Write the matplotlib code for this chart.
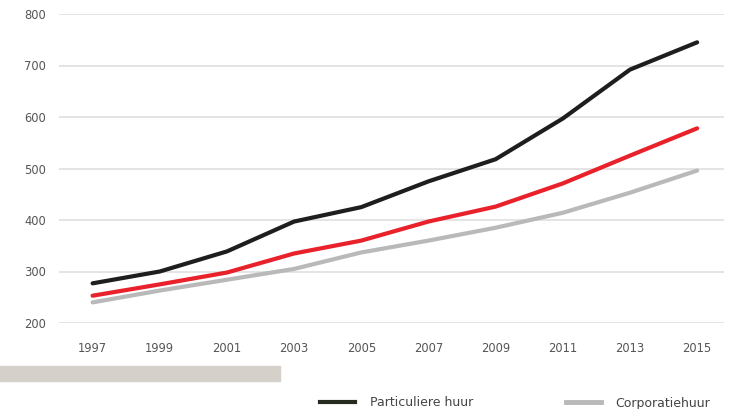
import matplotlib.pyplot as plt
from matplotlib.lines import Line2D
from matplotlib.patches import Rectangle

years = [1997, 1999, 2001, 2003, 2005, 2007, 2009, 2011, 2013, 2015]
particulier = [277, 300, 339, 397, 425, 475, 518, 597, 692, 745]
gemiddeld = [253, 275, 298, 335, 360, 397, 426, 471, 525, 578]
corporatie = [240, 263, 284, 305, 337, 360, 385, 414, 453, 496]
yticks = [200, 300, 400, 500, 600, 700, 800]

fig = plt.figure(figsize=(7.34, 4.09), dpi=100)
ax = fig.add_axes([59 / 734, 1 - 323 / 409, 665 / 734, 309 / 409])

for s in ax.spines.values():
    s.set_visible(False)

ax.set_xlim(1996, 2015.8)
ax.set_ylim(200, 800)
ax.set_yticks(yticks)
ax.set_xticks(years)
ax.grid(axis='y', color='#e4e4e4', linewidth=1.4)
ax.set_axisbelow(True)
ax.tick_params(length=0, labelsize=8.3, labelcolor='#555555')
ax.tick_params(axis='y', pad=9.5)
ax.tick_params(axis='x', pad=14)

ax.plot(years, corporatie, color='#b9b9b9', lw=3, solid_capstyle='round', clip_on=False)
ax.plot(years, gemiddeld, color='#e8212b', lw=3, solid_capstyle='round', clip_on=False)
ax.plot(years, particulier, color='#1e1e1e', lw=3, solid_capstyle='round', clip_on=False)

# grey bar under the chart
fig.patches.append(Rectangle((0, 1 - 381 / 409), 280 / 734, 15 / 409,
                             transform=fig.transFigure, color='#d5d1ca', zorder=0))

handles = [Line2D([], [], color='#262b20', lw=3),
           Line2D([], [], color='#b9b9b9', lw=3.5)]
fig.legend(handles, ['Particuliere huur', 'Corporatiehuur'], ncol=2,
           loc='center left', bbox_to_anchor=(320 / 734, 6 / 409),
           frameon=False, fontsize=9, handlelength=2.8, handletextpad=1.2,
           columnspacing=7.4, borderpad=0, borderaxespad=0, labelcolor='#444444')

fig.savefig('out.png', dpi=100)
